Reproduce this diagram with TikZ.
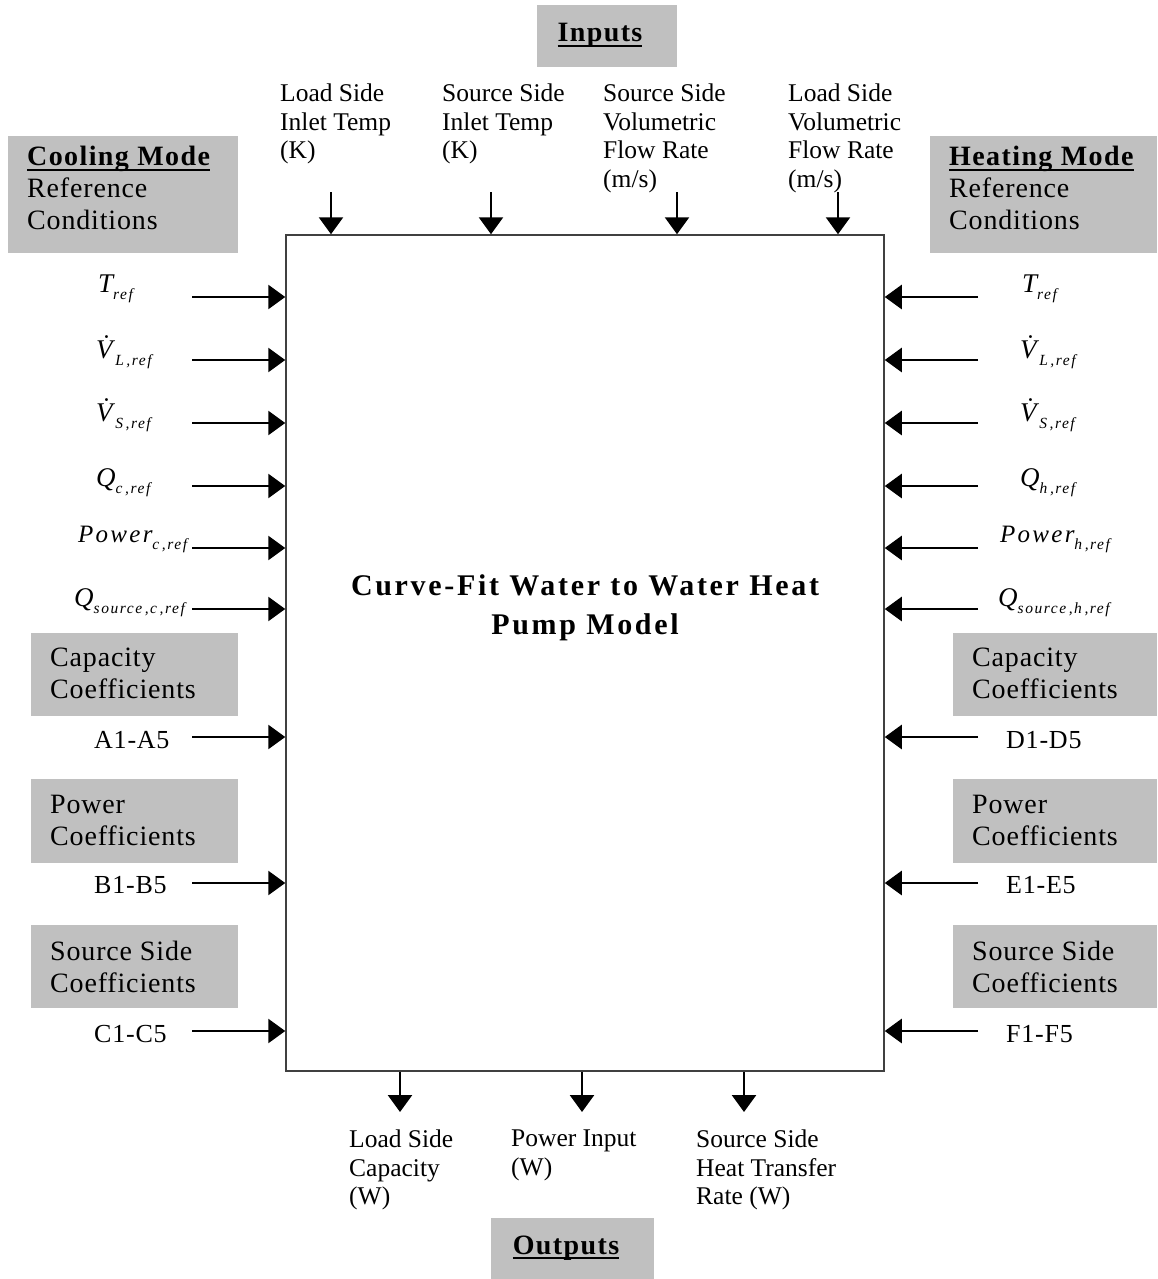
\documentclass[tikz,border=0pt]{standalone}
\usepackage{fontspec}
\setmainfont{Liberation Serif}
\newfontfamily\lsfont[LetterSpace=3]{Liberation Serif}
\newfontfamily\hdfont[LetterSpace=5]{Liberation Serif}
\newfontfamily\ctrfont[LetterSpace=9]{Liberation Serif}
\newfontfamily\subfont[LetterSpace=10]{Liberation Serif}
\newfontfamily\pwfont[LetterSpace=9]{Liberation Serif}
\usetikzlibrary{arrows.meta}
\definecolor{boxgray}{RGB}{192,192,192}
\definecolor{framegray}{RGB}{64,64,64}
\newcommand\ulx[1]{\setbox0\hbox{#1}\rlap{\rule[-5pt]{\wd0}{1.8pt}}\box0}
\newcommand\sbx[1]{\raisebox{-7pt}{\subfont\itshape\fontsize{15.5}{15.5}\selectfont #1}}
\newcommand\mvar[1]{{\itshape\fontsize{27}{27}\selectfont #1}}
\newcommand\pvar[1]{{\pwfont\itshape\fontsize{25}{25}\selectfont #1}}
\tikzset{
  arr/.style={line width=2.6pt, -{Triangle[length=17pt,width=24pt]}},
  mainbox/.style={draw=framegray, line width=1.5pt, inner sep=0pt},
  gbox/.style={fill=boxgray, draw=none, inner sep=0pt, anchor=north west},
  lab/.style={anchor=north west, inner sep=0pt, align=left, font=\fontsize{25.5}{28.5}\selectfont},
  glab/.style={anchor=north west, inner sep=0pt, align=left, font=\lsfont\fontsize{28}{32}\selectfont},
  hlab/.style={anchor=north west, inner sep=0pt, align=left, font=\lsfont\fontsize{28}{32}\selectfont},
  mlab/.style={anchor=base west, inner sep=0pt},
  clab/.style={anchor=base west, inner sep=0pt, font=\lsfont\fontsize{26}{26}\selectfont},
  ttl/.style={anchor=base, inner sep=0pt, font=\hdfont\bfseries\fontsize{28}{28}\selectfont},
}
\begin{document}
\begin{tikzpicture}[x=1pt,y=-1pt]
\useasboundingbox (0,0) rectangle (1157,1279);

% main box
\node (M) [mainbox, minimum width=598pt, minimum height=836pt] at (585,653) {};
\node (title) [anchor=north, inner sep=0pt, align=center,
  font=\ctrfont\bfseries\fontsize{30}{39}\selectfont] at (585,574)
  {Curve-Fit Water to Water Heat\\Pump Model};

% Inputs / Outputs
\node (inbox) [gbox, minimum width=140pt, minimum height=62pt] at (537,5) {};
\node (inttl) [ttl] at (600,42) {\ulx{Inputs}};
\node (outbox) [gbox, minimum width=163pt, minimum height=62pt] at (491,1218) {};
\node (outttl) [ttl] at (566,1254) {\ulx{Outputs}};

% top labels
\node (t1) [lab] at (280,84) {Load Side\\Inlet Temp\\(K)};
\node (t2) [lab] at (442,84) {Source Side\\Inlet Temp\\(K)};
\node (t3) [lab] at (603,84) {Source Side\\Volumetric\\Flow Rate\\(m/s)};
\node (t4) [lab] at (788,84) {Load Side\\Volumetric\\Flow Rate\\(m/s)};
\foreach \x/\n in {331/1,491/2,677/3,838/4}{
  \coordinate (ta\n) at (\x,192);
  \draw[arr] (ta\n) -- (ta\n |- M.north);
}

% bottom labels
\node (b1) [lab] at (349,1130) {Load Side\\Capacity\\(W)};
\node (b2) [lab] at (511,1130) {Power Input\\(W)};
\node (b3) [lab] at (696,1130) {Source Side\\Heat Transfer\\Rate (W)};
\foreach \x/\n in {400/1,582/2,744/3}{
  \coordinate (ba\n) at (\x,1112);
  \draw[arr] (ba\n |- M.south) -- (ba\n);
}

% cooling / heating mode
\node (cool) [gbox, minimum width=230pt, minimum height=117pt] at (8,136) {};
\node (coolt) [hlab] at (27,146) {{\hdfont\bfseries\ulx{Cooling Mode}}\\Reference\\Conditions};
\node (heat) [gbox, minimum width=227pt, minimum height=117pt] at (930,136) {};
\node (heatt) [hlab] at (949,146) {{\hdfont\bfseries\ulx{Heating Mode}}\\Reference\\Conditions};

% left reference labels
\node (lT) [mlab] at (98,292) {\mvar{T}\sbx{ref}};
\node (lV) [mlab] at (96,358) {\mvar{\.{V}}\sbx{\,L\,,ref}};
\node (lS) [mlab] at (96,421) {\mvar{\.{V}}\sbx{\,S\,,ref}};
\node (lQ) [mlab] at (96,486) {\mvar{Q}\sbx{c\,,ref}};
\node (lP) [mlab] at (78,542) {\pvar{Power}\sbx{c\,,ref}};
\node (lQs) [mlab] at (74,606) {\mvar{Q}\sbx{source\,,c\,,ref}};

% right reference labels
\node (rT) [mlab] at (1022,292) {\mvar{T}\sbx{ref}};
\node (rV) [mlab] at (1020,358) {\mvar{\.{V}}\sbx{\,L\,,ref}};
\node (rS) [mlab] at (1020,421) {\mvar{\.{V}}\sbx{\,S\,,ref}};
\node (rQ) [mlab] at (1020,486) {\mvar{Q}\sbx{h\,,ref}};
\node (rP) [mlab] at (1000,542) {\pvar{Power}\sbx{h\,,ref}};
\node (rQs) [mlab] at (998,606) {\mvar{Q}\sbx{source\,,h\,,ref}};

\foreach \y/\n in {297/1,360/2,423/3,486/4,548/5,609/6,737/7,883/8,1031/9}{
  \coordinate (la\n) at (192,\y);
  \draw[arr] (la\n) -- (la\n -| M.west);
  \coordinate (ra\n) at (978,\y);
  \draw[arr] (ra\n) -- (ra\n -| M.east);
}

% coefficient boxes left
\node (capL) [gbox, minimum width=207pt, minimum height=83pt] at (31,633) {};
\node (capLt) [glab] at (50,648) {Capacity\\Coefficients};
\node (powL) [gbox, minimum width=207pt, minimum height=84pt] at (31,779) {};
\node (powLt) [glab] at (50,795) {Power\\Coefficients};
\node (srcL) [gbox, minimum width=207pt, minimum height=83pt] at (31,925) {};
\node (srcLt) [glab] at (50,941) {Source Side\\Coefficients};
\node (cA) [clab] at (94,748) {A1-A5};
\node (cB) [clab] at (94,893) {B1-B5};
\node (cC) [clab] at (94,1042) {C1-C5};

% coefficient boxes right
\node (capR) [gbox, minimum width=204pt, minimum height=83pt] at (953,633) {};
\node (capRt) [glab] at (972,648) {Capacity\\Coefficients};
\node (powR) [gbox, minimum width=204pt, minimum height=84pt] at (953,779) {};
\node (powRt) [glab] at (972,795) {Power\\Coefficients};
\node (srcR) [gbox, minimum width=204pt, minimum height=83pt] at (953,925) {};
\node (srcRt) [glab] at (972,941) {Source Side\\Coefficients};
\node (cD) [clab] at (1006,748) {D1-D5};
\node (cE) [clab] at (1006,893) {E1-E5};
\node (cF) [clab] at (1006,1042) {F1-F5};
\end{tikzpicture}
\end{document}
